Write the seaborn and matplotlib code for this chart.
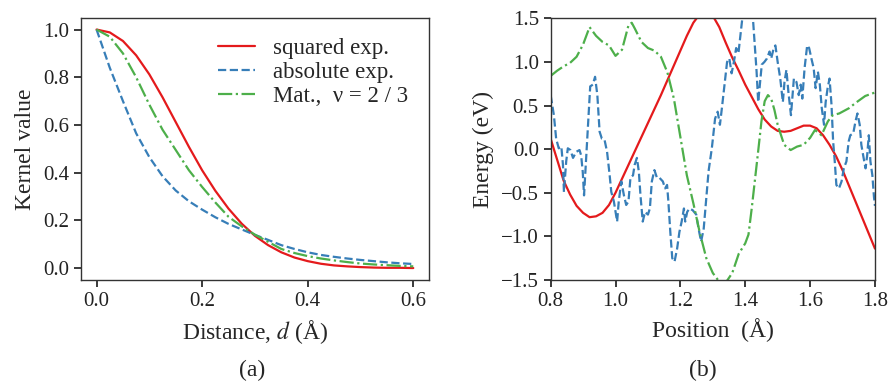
#kernel functions and example energy profiles

import pandas as pd
import matplotlib
matplotlib.use("Agg")
import matplotlib.pyplot as plt
import seaborn as sns

# panel (a): kernel values
distance = [0.0, 0.025, 0.05, 0.075, 0.1, 0.125, 0.15, 0.175, 0.2, 0.225, 0.25, 0.275, 0.3,
            0.325, 0.35, 0.375, 0.4, 0.425, 0.45, 0.475, 0.5, 0.525, 0.55, 0.575, 0.6]
squared_exp = [1.0, 0.988, 0.952, 0.892, 0.812, 0.716, 0.612, 0.508, 0.41, 0.324, 0.249, 0.186, 0.135,
               0.096, 0.066, 0.044, 0.029, 0.018, 0.011, 0.007, 0.004, 0.002, 0.001, 0.001, 0.0]
absolute_exp = [1.0, 0.84, 0.70, 0.565, 0.465, 0.385, 0.325, 0.28, 0.245, 0.213, 0.185, 0.162, 0.139,
                0.118, 0.096, 0.08, 0.066, 0.055, 0.047, 0.040, 0.034, 0.029, 0.024, 0.020, 0.017]
matern = [1.0, 0.97, 0.90, 0.80, 0.685, 0.58, 0.495, 0.41, 0.34, 0.275, 0.215, 0.175, 0.14,
          0.11, 0.08, 0.063, 0.05, 0.04, 0.032, 0.025, 0.019, 0.015, 0.012, 0.009, 0.007]

# panel (b): energy profiles
red_x = [0.80, 0.82, 0.84, 0.86, 0.88, 0.90, 0.92, 0.94, 0.96, 0.98, 1.00, 1.02, 1.04, 1.06, 1.08,
         1.10, 1.12, 1.14, 1.16, 1.18, 1.20, 1.22, 1.24, 1.26, 1.28, 1.30, 1.32, 1.34, 1.36, 1.38,
         1.40, 1.42, 1.44, 1.46, 1.48, 1.50, 1.52, 1.54, 1.56, 1.58, 1.60, 1.62, 1.64, 1.66, 1.68,
         1.70, 1.72, 1.74, 1.76, 1.78, 1.80]
red_y = [0.12, -0.12, -0.36, -0.52, -0.65, -0.73, -0.78, -0.77, -0.73, -0.64, -0.50, -0.34, -0.18, -0.02, 0.14,
         0.30, 0.46, 0.62, 0.79, 0.96, 1.13, 1.30, 1.45, 1.55, 1.58, 1.53, 1.40, 1.22, 1.05, 0.90,
         0.74, 0.60, 0.46, 0.34, 0.26, 0.21, 0.20, 0.21, 0.24, 0.27, 0.27, 0.24, 0.16, 0.05, -0.08,
         -0.24, -0.42, -0.60, -0.78, -0.96, -1.14]

blue_x = [0.800, 0.810, 0.817, 0.825, 0.833, 0.838, 0.841, 0.848, 0.853, 0.861, 0.869, 0.879, 0.889,
          0.894, 0.899, 0.903, 0.910, 0.917, 0.922, 0.930, 0.937, 0.944, 0.951, 0.958, 0.966, 0.974,
          0.982, 0.987, 0.995, 1.005, 1.010, 1.018, 1.026, 1.033, 1.040, 1.046, 1.054, 1.059, 1.066,
          1.072, 1.077, 1.084, 1.091, 1.100, 1.106, 1.112, 1.120, 1.128, 1.136, 1.146, 1.153, 1.159,
          1.163, 1.169, 1.175, 1.182, 1.190, 1.197, 1.204, 1.211, 1.215, 1.221, 1.228, 1.238, 1.249,
          1.256, 1.264, 1.272, 1.279, 1.287, 1.297, 1.307, 1.315, 1.322, 1.328, 1.336, 1.344, 1.351,
          1.358, 1.365, 1.372, 1.379, 1.385, 1.391, 1.398, 1.408, 1.418, 1.423, 1.428, 1.435, 1.440,
          1.445, 1.451, 1.459, 1.467, 1.475, 1.480, 1.488, 1.493, 1.500, 1.508, 1.516, 1.521, 1.527,
          1.533, 1.541, 1.545, 1.550, 1.558, 1.565, 1.571, 1.576, 1.583, 1.591, 1.597, 1.604, 1.611,
          1.617, 1.624, 1.630, 1.636, 1.643, 1.648, 1.654, 1.660, 1.666, 1.671, 1.676, 1.681, 1.689,
          1.697, 1.704, 1.712, 1.719, 1.724, 1.733, 1.740, 1.746, 1.753, 1.758, 1.765, 1.771, 1.776,
          1.781, 1.786, 1.792, 1.797, 1.800]
blue_y = [0.62, 0.39, 0.12, 0.01, 0.03, -0.18, -0.49, -0.14, 0.01, -0.01, -0.10, -0.03, -0.01,
          -0.07, -0.26, -0.53, -0.07, 0.39, 0.72, 0.74, 0.83, 0.62, 0.20, 0.12, 0.11, -0.03,
          -0.30, -0.49, -0.60, -0.83, -0.60, -0.37, -0.53, -0.64, -0.60, -0.33, -0.30, -0.18, -0.10,
          -0.26, -0.53, -0.83, -0.72, -0.75, -0.68, -0.37, -0.24, -0.33, -0.33, -0.37, -0.45, -0.41,
          -0.60, -0.95, -1.25, -1.29, -1.14, -0.95, -0.83, -0.68, -0.83, -0.72, -0.68, -0.70, -0.75,
          -0.91, -1.06, -0.91, -0.60, -0.25, 0.01, 0.35, 0.43, 0.28, 0.47, 0.74, 1.00, 1.04,
          0.87, 1.00, 1.16, 1.10, 1.30, 1.50, 1.65, 1.75, 1.65, 1.54, 1.27, 0.89, 0.54,
          0.74, 0.97, 1.00, 1.04, 1.12, 1.04, 1.16, 1.19, 1.00, 0.81, 0.54, 0.77, 0.91,
          0.66, 0.39, 0.58, 0.81, 0.77, 0.62, 0.74, 0.58, 0.93, 1.19, 1.16, 1.04, 0.93,
          0.70, 0.89, 0.74, 0.47, 0.28, 0.54, 0.70, 0.81, 0.51, 0.09, -0.14, -0.41, -0.45,
          -0.37, -0.22, -0.14, 0.09, 0.16, 0.18, 0.32, 0.41, 0.28, 0.05, -0.10, -0.22, -0.07,
          0.16, -0.14, -0.30, -0.55, -0.65]

green_x = [0.80, 0.82, 0.84, 0.86, 0.88, 0.90, 0.92, 0.94, 0.96, 0.98, 1.00, 1.02, 1.04, 1.05, 1.06,
           1.08, 1.10, 1.12, 1.14, 1.16, 1.18, 1.20, 1.22, 1.24, 1.26, 1.28, 1.30, 1.32, 1.34, 1.36,
           1.38, 1.40, 1.41, 1.42, 1.43, 1.44, 1.45, 1.46, 1.47, 1.48, 1.49, 1.50, 1.52, 1.54, 1.56,
           1.58, 1.60, 1.615, 1.635, 1.655, 1.67, 1.69, 1.72, 1.74, 1.77, 1.80]
green_y = [0.84, 0.90, 0.95, 0.99, 1.06, 1.20, 1.40, 1.30, 1.23, 1.19, 1.07, 1.14, 1.42, 1.45, 1.38,
           1.23, 1.16, 1.13, 1.06, 0.88, 0.58, 0.14, -0.30, -0.62, -0.96, -1.25, -1.42, -1.52, -1.53, -1.42,
           -1.20, -1.08, -0.98, -0.68, -0.35, -0.02, 0.32, 0.55, 0.62, 0.58, 0.45, 0.28, 0.05, -0.01, 0.03,
           0.05, 0.13, 0.22, 0.16, 0.32, 0.39, 0.41, 0.47, 0.53, 0.61, 0.65]

red = "#e41a1c"
blue = "#377eb8"
green = "#4daf4a"

sns.set_theme(style="ticks")
plt.rcParams['font.family'] = ['Liberation Serif', 'DejaVu Serif']
plt.rcParams['mathtext.fontset'] = 'stix'
plt.rcParams['axes.edgecolor'] = '#333333'
plt.rcParams['axes.linewidth'] = 1.0
plt.rcParams['xtick.major.size'] = 5
plt.rcParams['ytick.major.size'] = 5
plt.rcParams['xtick.color'] = '#222222'
plt.rcParams['ytick.color'] = '#222222'

fig = plt.figure(figsize=(8.91, 3.83), dpi=100)
ax1 = fig.add_axes([0.0906, 0.269, 0.391, 0.685])
ax2 = fig.add_axes([0.618, 0.269, 0.364, 0.683])

# (a) kernels
sns.lineplot(x=distance, y=squared_exp, ax=ax1, color=red, lw=1.6, label='squared exp.')
sns.lineplot(x=distance, y=absolute_exp, ax=ax1, color=blue, lw=1.6, linestyle='--', label='absolute exp.')
sns.lineplot(x=distance, y=matern, ax=ax1, color=green, lw=1.6, linestyle='-.', label='Mat.,  ν = 2 / 3')
ax1.set_xlim(-0.03, 0.63)
ax1.set_ylim(-0.05, 1.05)
ax1.set_xticks([0.0, 0.2, 0.4, 0.6])
ax1.set_yticks([0.0, 0.2, 0.4, 0.6, 0.8, 1.0])
ax1.set_xlabel('Distance, $d$ (Å)', fontsize=17, labelpad=5)
ax1.set_ylabel('Kernel value', fontsize=17, labelpad=5)
ax1.tick_params(labelsize=15)
ax1.legend(loc='upper right', frameon=False, fontsize=16.5, handlelength=1.6, labelspacing=0.12)

# (b) energies
sns.lineplot(x=red_x, y=red_y, ax=ax2, color=red, lw=1.6, sort=False, estimator=None)
sns.lineplot(x=blue_x, y=blue_y, ax=ax2, color=blue, lw=1.6, linestyle='--', sort=False, estimator=None)
sns.lineplot(x=green_x, y=green_y, ax=ax2, color=green, lw=1.6, linestyle='-.', sort=False, estimator=None)
ax2.set_xlim(0.8, 1.8)
ax2.set_ylim(-1.5, 1.5)
ax2.set_xticks([0.8, 1.0, 1.2, 1.4, 1.6, 1.8])
ax2.set_yticks([-1.5, -1.0, -0.5, 0.0, 0.5, 1.0, 1.5])
ax2.set_xlabel('Position  (Å)', fontsize=17, labelpad=5)
ax2.set_ylabel('Energy (eV)', fontsize=17, labelpad=5)
ax2.tick_params(labelsize=15)

fig.text(0.283, 0.034, '(a)', ha='center', va='center', fontsize=17)
fig.text(0.789, 0.034, '(b)', ha='center', va='center', fontsize=17)

plt.savefig('out.png', dpi=100)
